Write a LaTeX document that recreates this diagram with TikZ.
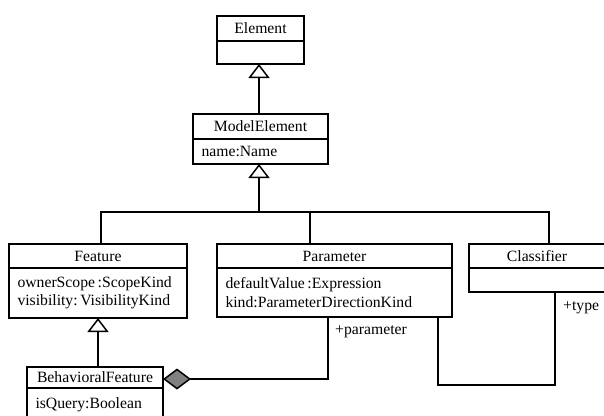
\documentclass[tikz,border=0pt]{standalone}
\usepackage{fontspec}
\setmainfont{Liberation Serif}
\usetikzlibrary{arrows.meta}

\tikzset{
  x=1pt, y=-1pt,
  every node/.style={font=\fontsize{15.7}{18.4}\selectfont},
  box/.style={draw, line width=1.5pt, inner sep=0pt, outer sep=0pt, fill=white},
  head/.style={box, align=center},
  body/.style={box, align=left, text width=#1, inner xsep=8.5pt},
  conn/.style={line width=1.5pt},
  gen/.style={conn, -{Triangle[open, width=21pt, length=14pt, line width=1.5pt, fill=white]}},
  comp/.style={conn, -{Diamond[width=21pt, length=28pt, line width=1.5pt, fill=black!50]}},
  role/.style={anchor=west, inner sep=0pt},
}

\begin{document}
\begin{tikzpicture}
\useasboundingbox (0,0) rectangle (604,415);
\clip (0,0) rectangle (604,415);

% Element
\node[head, minimum width=87pt, minimum height=25pt] (ehead) at (260.5,28.5) {Element};
\node[box, minimum width=87pt, minimum height=23pt, anchor=north] (ebody) at (ehead.south) {};

% ModelElement
\node[head, minimum width=135pt, minimum height=25pt] (mhead) at (260.5,126.5) {ModelElement};
\node[body=118pt, minimum height=25pt, anchor=north] (mbody) at (mhead.south) {name:Name};

% Feature
\node[head, minimum width=178pt, minimum height=24pt] (fhead) at (98,256) {Feature};
\node[body=161pt, minimum height=50pt, anchor=north] (fbody) at (fhead.south)
  {ownerScope\,:ScopeKind\\visibility:\,VisibilityKind};

% Parameter
\node[head, minimum width=235pt, minimum height=24pt] (phead) at (334.5,256) {Parameter};
\node[body=218pt, minimum height=49pt, anchor=north] (pbody) at (phead.south)
  {defaultValue\,:Expression\\kind:ParameterDirectionKind};

% Classifier
\node[head, minimum width=136pt, minimum height=24pt] (chead) at (537,256) {Classifier};
\node[box, minimum width=136pt, minimum height=24pt, anchor=north] (cbody) at (chead.south) {};

% BehavioralFeature
\node[head, minimum width=136pt, minimum height=21pt] (bhead) at (95,377.5) {BehavioralFeature};
\node[body=119pt, minimum height=34pt, anchor=north] (bbody) at (bhead.south) {isQuery:Boolean};

% generalization tree
\coordinate (bus)   at (259,212);
\coordinate (busL)  at (101,212);
\coordinate (busR)  at (549,212);
\coordinate (pdrop) at (310,212);
\draw[gen] (mhead.north -| 259,0) -- (ebody.south -| 259,0);
\draw[gen] (bus) -- (mbody.south -| bus);
\draw[conn] (fhead.north -| busL) -- (busL) -- (busR) -- (chead.north -| busR);
\draw[conn] (pdrop) -- (phead.north -| pdrop);
\draw[gen] (bhead.north -| fbody.south) -- (fbody.south);

% composition Parameter -> BehavioralFeature
\coordinate (pout) at (328,379);
\draw[comp] (pbody.south -| pout) -- (pout) -- (bhead.east |- pout);
\node[role] (lpar) at (335,332) {+parameter};

% association Parameter -> Classifier
\coordinate (aL) at (438,385);
\coordinate (aR) at (555,385);
\draw[conn] (pbody.south -| aL) -- (aL) -- (aR) -- (cbody.south -| aR);
\node[role] (ltype) at (563,308) {+type};
\end{tikzpicture}
\end{document}
